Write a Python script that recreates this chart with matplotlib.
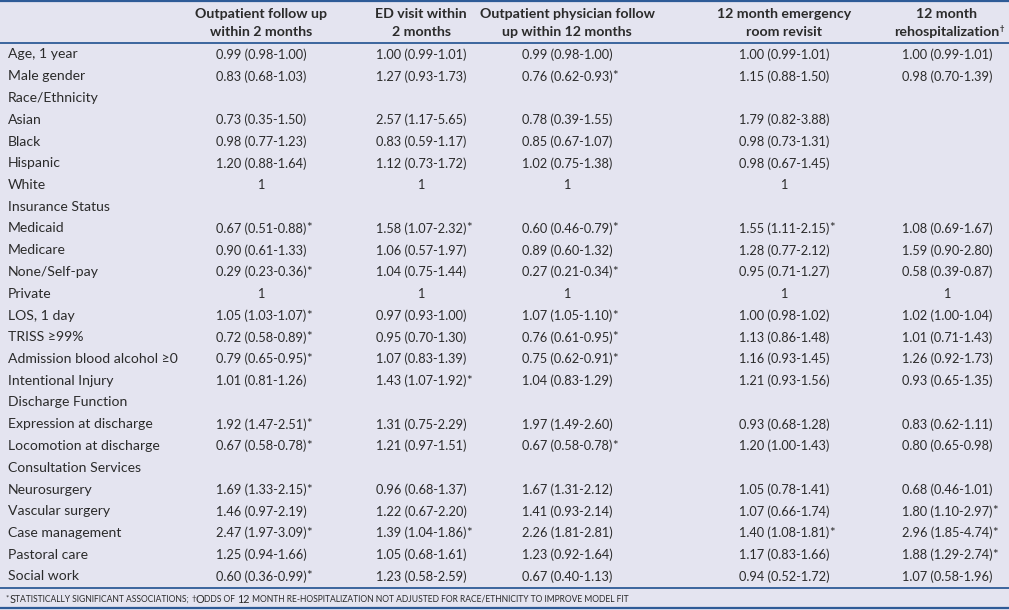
import matplotlib
matplotlib.use("Agg")
import matplotlib.pyplot as plt

plt.rcParams["font.family"] = ["Lato", "DejaVu Sans"]

# table content
headers = [
    "Outpatient follow up\nwithin 2 months",
    "ED visit within\n2 months",
    "Outpatient physician follow\nup within 12 months",
    "12 month emergency\nroom revisit",
    "12 month\nrehospitalization",
]
row_labels = [
    "Age, 1 year", "Male gender", "Race/Ethnicity", "Asian", "Black", "Hispanic",
    "White", "Insurance Status", "Medicaid", "Medicare", "None/Self-pay", "Private",
    "LOS, 1 day", "TRISS \u226599%", "Admission blood alcohol \u22650", "Intentional Injury",
    "Discharge Function", "Expression at discharge", "Locomotion at discharge",
    "Consultation Services", "Neurosurgery", "Vascular surgery", "Case management",
    "Pastoral care", "Social work",
]
col_outpt_2m = [
    "0.99 (0.98-1.00)", "0.83 (0.68-1.03)", "", "0.73 (0.35-1.50)", "0.98 (0.77-1.23)",
    "1.20 (0.88-1.64)", "1", "", "0.67 (0.51-0.88)*", "0.90 (0.61-1.33)",
    "0.29 (0.23-0.36)*", "1", "1.05 (1.03-1.07)*", "0.72 (0.58-0.89)*",
    "0.79 (0.65-0.95)*", "1.01 (0.81-1.26)", "", "1.92 (1.47-2.51)*",
    "0.67 (0.58-0.78)*", "", "1.69 (1.33-2.15)*", "1.46 (0.97-2.19)",
    "2.47 (1.97-3.09)*", "1.25 (0.94-1.66)", "0.60 (0.36-0.99)*",
]
col_ed_2m = [
    "1.00 (0.99-1.01)", "1.27 (0.93-1.73)", "", "2.57 (1.17-5.65)", "0.83 (0.59-1.17)",
    "1.12 (0.73-1.72)", "1", "", "1.58 (1.07-2.32)*", "1.06 (0.57-1.97)",
    "1.04 (0.75-1.44)", "1", "0.97 (0.93-1.00)", "0.95 (0.70-1.30)",
    "1.07 (0.83-1.39)", "1.43 (1.07-1.92)*", "", "1.31 (0.75-2.29)",
    "1.21 (0.97-1.51)", "", "0.96 (0.68-1.37)", "1.22 (0.67-2.20)",
    "1.39 (1.04-1.86)*", "1.05 (0.68-1.61)", "1.23 (0.58-2.59)",
]
col_phys_12m = [
    "0.99 (0.98-1.00)", "0.76 (0.62-0.93)*", "", "0.78 (0.39-1.55)", "0.85 (0.67-1.07)",
    "1.02 (0.75-1.38)", "1", "", "0.60 (0.46-0.79)*", "0.89 (0.60-1.32)",
    "0.27 (0.21-0.34)*", "1", "1.07 (1.05-1.10)*", "0.76 (0.61-0.95)*",
    "0.75 (0.62-0.91)*", "1.04 (0.83-1.29)", "", "1.97 (1.49-2.60)",
    "0.67 (0.58-0.78)*", "", "1.67 (1.31-2.12)", "1.41 (0.93-2.14)",
    "2.26 (1.81-2.81)", "1.23 (0.92-1.64)", "0.67 (0.40-1.13)",
]
col_er_12m = [
    "1.00 (0.99-1.01)", "1.15 (0.88-1.50)", "", "1.79 (0.82-3.88)", "0.98 (0.73-1.31)",
    "0.98 (0.67-1.45)", "1", "", "1.55 (1.11-2.15)*", "1.28 (0.77-2.12)",
    "0.95 (0.71-1.27)", "1", "1.00 (0.98-1.02)", "1.13 (0.86-1.48)",
    "1.16 (0.93-1.45)", "1.21 (0.93-1.56)", "", "0.93 (0.68-1.28)",
    "1.20 (1.00-1.43)", "", "1.05 (0.78-1.41)", "1.07 (0.66-1.74)",
    "1.40 (1.08-1.81)*", "1.17 (0.83-1.66)", "0.94 (0.52-1.72)",
]
col_rehosp_12m = [
    "1.00 (0.99-1.01)", "0.98 (0.70-1.39)", "", "", "",
    "", "", "", "1.08 (0.69-1.67)", "1.59 (0.90-2.80)",
    "0.58 (0.39-0.87)", "1", "1.02 (1.00-1.04)", "1.01 (0.71-1.43)",
    "1.26 (0.92-1.73)", "0.93 (0.65-1.35)", "", "0.83 (0.62-1.11)",
    "0.80 (0.65-0.98)", "", "0.68 (0.46-1.01)", "1.80 (1.10-2.97)*",
    "2.96 (1.85-4.74)*", "1.88 (1.29-2.74)*", "1.07 (0.58-1.96)",
]
columns = [col_outpt_2m, col_ed_2m, col_phys_12m, col_er_12m, col_rehosp_12m]
# footnote runs: (text, small-caps capital?, superscript?)
footnote = [
    ("*", False, True), ("S", True, False), ("TATISTICALLY SIGNIFICANT ASSOCIATIONS; ", False, False),
    ("\u2020", False, True), ("O", True, False),
    ("DDS OF ", False, False), ("12", True, False),
    (" MONTH RE-HOSPITALIZATION NOT ADJUSTED FOR RACE/ETHNICITY TO IMPROVE MODEL FIT", False, False),
]

bg = "#e4e4f0"
line_col = "#2e5b97"
txt_col = "#2b2b2b"

fig = plt.figure(figsize=(10.09, 6.10), dpi=100)
fig.patch.set_facecolor(bg)
ax = fig.add_axes([0, 0, 1, 1])
ax.set_xlim(0, 1009)
ax.set_ylim(610, 0)
ax.axis("off")
fig.canvas.draw()
renderer = fig.canvas.get_renderer()
inv = ax.transData.inverted()


def right_edge(t):
    bb = t.get_window_extent(renderer=renderer)
    return inv.transform((bb.x1, 0))[0]


col_x = [261, 421, 567, 784, 947]
label_x = 8
row_y0, row_dy = 54.5, 21.75

# rules
for y, lw in [(1, 1.6), (43, 1.3), (588, 1.3), (608, 1.6)]:
    ax.axhline(y, color=line_col, lw=lw)

# headers
for x, h in zip(col_x, headers):
    top, bottom = h.split("\n")
    ax.text(x, 13.5, top, ha="center", va="center", fontsize=10.2,
            fontweight="bold", color=txt_col)
    tb = ax.text(x, 32.5, bottom, ha="center", va="center", fontsize=10.2,
                 fontweight="bold", color=txt_col)
ax.text(right_edge(tb) + 0.5, 28, "\u2020", fontsize=5.5, fontweight="bold",
        color=txt_col, va="center", ha="left")

# body
for i, lab in enumerate(row_labels):
    y = row_y0 + i * row_dy
    ax.text(label_x, y, lab, ha="left", va="center", fontsize=10.1, color=txt_col)
    for x, col in zip(col_x, columns):
        if col[i]:
            s = col[i]
            star = s.endswith("*")
            core = s[:-1] if star else s
            t = ax.text(x, y, core, ha="center", va="center", fontsize=9.2, color=txt_col)
            if star:
                ax.text(right_edge(t), y, "*", ha="left", va="center",
                        fontsize=9.6, color=txt_col)

# footnote in small caps
xpos = 6
for s, big, sup in footnote:
    size = 5.6 if sup else (7.8 if big else 6.15)
    t = ax.text(xpos, 598 if sup else 599.5, s, ha="left", va="center",
                fontsize=size, color=txt_col)
    xpos = right_edge(t)

fig.savefig("out.png", dpi=100, facecolor=bg)
